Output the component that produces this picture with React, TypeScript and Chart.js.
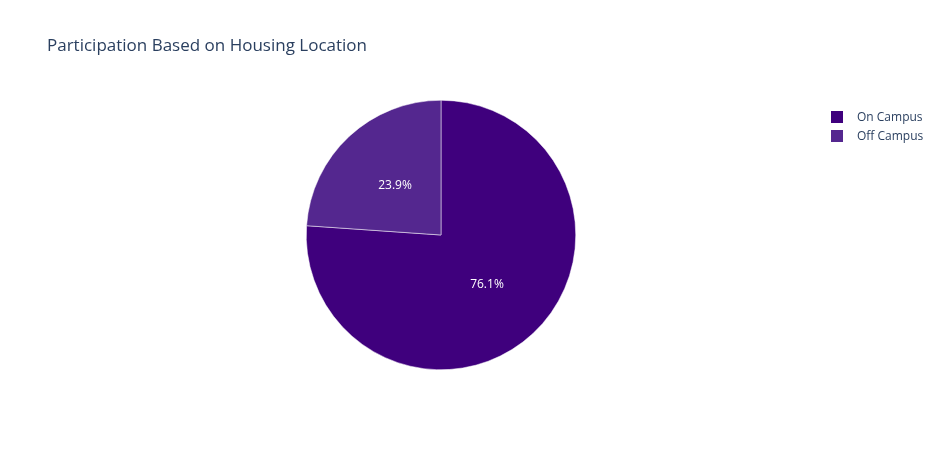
import { Chart, registerables } from "chart.js";
import { useRef, useEffect } from "react";

Chart.register(...registerables);

const labels = ["On Campus", "Off Campus"];
const values = [76.1, 23.9];
const colors = ["#3f007d", "#54278f"];

const font = '"Open Sans", "Noto Sans", sans-serif';

const pctLabels = {
    id: "pctLabels",
    afterDatasetsDraw(chart: Chart) {
        const ctx = chart.ctx;
        const total = values.reduce((a, b) => a + b, 0);
        chart.getDatasetMeta(0).data.forEach((arc: any, i: number) => {
            const p = arc.getCenterPoint();
            ctx.save();
            ctx.fillStyle = "#ffffff";
            ctx.font = `12px ${font}`;
            ctx.textAlign = "center";
            ctx.textBaseline = "middle";
            ctx.fillText(((values[i] / total) * 100).toFixed(1) + "%", p.x, p.y);
            ctx.restore();
        });
    },
};

export default function App() {
    const canvasRef = useRef<HTMLCanvasElement | null>(null);

    useEffect(() => {
        document.body.style.margin = "0";
        if (!canvasRef.current) return;
        const chart = new Chart(canvasRef.current, {
            type: "pie",
            data: {
                labels,
                datasets: [{ data: values, backgroundColor: colors, borderColor: "#ffffff", borderWidth: 0.5 }],
            },
            options: {
                animation: false,
                responsive: false,
                layout: { padding: { left: 306, right: 364, top: 100, bottom: 80 } },
                plugins: { legend: { display: false }, tooltip: { enabled: false } },
            },
            plugins: [pctLabels],
        });
        return () => chart.destroy();
    }, []);

    return (
        <div style={{ position: "relative", width: 940, height: 450, fontFamily: font, color: "#2a3f5f" }}>
            <canvas ref={canvasRef} width={940} height={450} style={{ position: "absolute", left: 0, top: 0 }} />
            <div style={{ position: "absolute", left: 47, top: 33, fontSize: 17 }}>
                Participation Based on Housing Location
            </div>
            <div style={{ position: "absolute", left: 831, top: 107, fontSize: 12 }}>
                {labels.map((l, i) => (
                    <div key={l} style={{ display: "flex", alignItems: "center", height: 19 }}>
                        <span style={{ width: 12, height: 12, background: colors[i], display: "inline-block", marginRight: 14 }} />
                        {l}
                    </div>
                ))}
            </div>
        </div>
    );
}
